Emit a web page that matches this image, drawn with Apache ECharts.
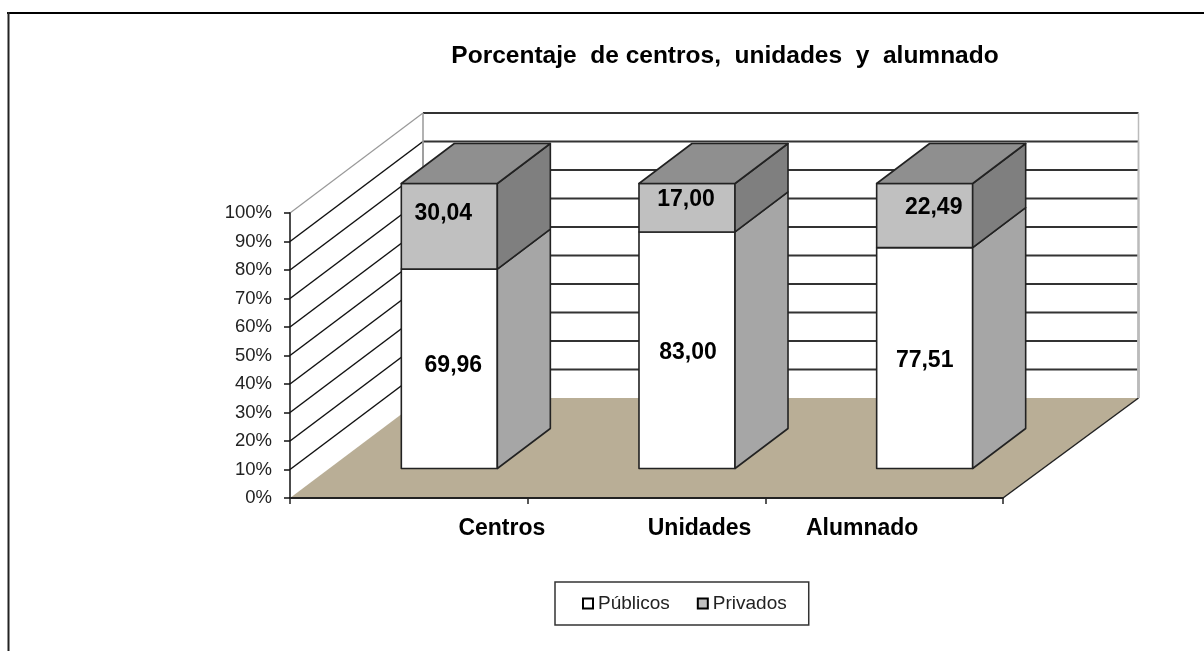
<!DOCTYPE html>
<html>
<head>
<meta charset="utf-8">
<script src="https://cdn.jsdelivr.net/npm/echarts@6/dist/echarts.min.js"></script>
<style>html,body{margin:0;padding:0;background:#fff}#c{width:1204px;height:651px}</style>
</head>
<body>
<div id="c"></div>
<script>
var categories = ['Centros', 'Unidades', 'Alumnado'];
var publicos = [69.96, 83.00, 77.51];
var privados = [30.04, 17.00, 22.49];
var yTicks = [0, 10, 20, 30, 40, 50, 60, 70, 80, 90, 100];
var titleText = 'Porcentaje  de centros,  unidades  y  alumnado';

// layout (pixels, not data)
var FONT = '"Liberation Sans", Arial, sans-serif';
var WALL = [133, -100];        // full floor depth
var WALL_EXTRA = 2.5;          // back wall runs slightly wider than the front edge
var BAR_NEAR = [40.5, -29.5];  // front face of bars inside the floor
var BAR_DEPTH = [53, -40];     // depth of the bars
var BAR_W = 0.404;             // share of the category band
var CAT_NUDGE = [93, 53, -22];
var PUB_NUDGE = [[4, -3], [1, 2], [0, 3]];
var PRI_NUDGE = [[-6, -13], [-1, -8], [9, -8]];

function fmt(v) { return v.toFixed(2).replace('.', ','); }
function poly(pts, fill, stroke, lw) {
  return { type: 'polygon', shape: { points: pts },
    style: { fill: fill, stroke: stroke || null, lineWidth: lw || 0, lineJoin: 'round' } };
}
function line(a, b, color, lw) {
  return { type: 'line', shape: { x1: a[0], y1: a[1], x2: b[0], y2: b[1] },
    style: { stroke: color, lineWidth: lw } };
}
function shift(p, d) { return [p[0] + d[0], p[1] + d[1]]; }

function renderFloor(params, api) {
  var cs = params.coordSys;
  var a = [cs.x, cs.y + cs.height], b = [cs.x + cs.width, cs.y + cs.height];
  var bb = [b[0] + WALL[0] + WALL_EXTRA, b[1] + WALL[1]];
  return { type: 'group', children: [
    poly([a, b, bb, shift(a, WALL)], '#b9ae96'),
    line(b, bb, '#222', 1.5)
  ]};
}
function renderWallLine(params, api) {
  var cs = params.coordSys;
  var v = api.value(0);
  var y = api.coord([0, v])[1];
  var a = [cs.x, y], b = [cs.x + cs.width, y];
  var ba = shift(a, WALL), bb = [b[0] + WALL[0] + WALL_EXTRA, y + WALL[1]];
  var floorY = cs.y + cs.height + WALL[1];
  var ch = [];
  if (v > 0) {
    var edge = v === 100;
    ch.push(line(a, ba, edge ? '#999' : '#111', edge ? 1.2 : 1.5));
    ch.push(line(ba, bb, '#333', 1.8));
    ch.push(line(bb, [bb[0], floorY], '#bbb', 1.5));
    ch.push(line(ba, [ba[0], floorY], '#999', 1.5));
  }
  return { type: 'group', children: ch };
}
function renderStack(front, side, topFace, nudge) {
  return function (params, api) {
    var i = api.value(0), base = api.value(1), val = api.value(2);
    var centre = api.coord([i, 0])[0];
    var w = api.size([1, 0])[0] * BAR_W;
    var y0 = api.coord([i, base])[1], y1 = api.coord([i, base + val])[1];
    var l = centre - w / 2 + BAR_NEAR[0], r = centre + w / 2 + BAR_NEAR[0];
    var bl = [l, y0 + BAR_NEAR[1]], br = [r, y0 + BAR_NEAR[1]];
    var tl = [l, y1 + BAR_NEAR[1]], tr = [r, y1 + BAR_NEAR[1]];
    var ch = [
      poly([bl, br, tr, tl], front, '#222', 1.6),
      poly([br, shift(br, BAR_DEPTH), shift(tr, BAR_DEPTH), tr], side, '#222', 1.6)
    ];
    if (topFace) ch.push(poly([tl, tr, shift(tr, BAR_DEPTH), shift(tl, BAR_DEPTH)], topFace, '#222', 1.6));
    ch.push({ type: 'text', style: {
      text: fmt(val), x: (l + r) / 2 + nudge[i][0], y: (tl[1] + bl[1]) / 2 + nudge[i][1],
      fill: '#000', font: 'bold 23px ' + FONT, align: 'center', verticalAlign: 'middle' } });
    return { type: 'group', children: ch };
  };
}
function renderCat(params, api) {
  var i = api.value(0);
  var p = api.coord([i, 0]);
  return { type: 'text', style: { text: categories[i], x: p[0] + CAT_NUDGE[i], y: p[1] + 31,
    fill: '#000', font: 'bold 23px ' + FONT, align: 'center', verticalAlign: 'middle' } };
}

var chart = echarts.init(document.getElementById('c'), null, { renderer: 'canvas' });
chart.setOption({
  animation: false,
  backgroundColor: '#fff',
  title: { text: titleText, left: 720, textAlign: 'center', top: 39,
    textStyle: { fontFamily: FONT, fontSize: 24.5, fontWeight: 'bold', color: '#000' } },
  legend: {
    left: 555, top: 582, padding: [12, 22, 12, 27], itemGap: 27, itemWidth: 10, itemHeight: 10,
    backgroundColor: '#fff', borderColor: '#333', borderWidth: 1.5, borderRadius: 0,
    icon: 'rect', selectedMode: false,
    textStyle: { fontFamily: FONT, fontSize: 19, color: '#222' },
    data: [
      { name: 'Públicos', itemStyle: { color: '#fff', borderColor: '#000', borderWidth: 2 } },
      { name: 'Privados', itemStyle: { color: '#c0c0c0', borderColor: '#000', borderWidth: 2 } }
    ]
  },
  grid: { left: 290, top: 213, width: 713, height: 285 },
  xAxis: {
    type: 'category', data: categories, z: 5,
    axisLine: { lineStyle: { color: '#222', width: 2 } },
    axisTick: { show: true, length: 6, lineStyle: { color: '#222', width: 1.5 } },
    axisLabel: { show: false }, splitLine: { show: false }
  },
  yAxis: {
    type: 'value', min: 0, max: 100, interval: 10, z: 5,
    axisLine: { show: true, lineStyle: { color: '#111', width: 1.5 } },
    axisTick: { show: true, length: 6, lineStyle: { color: '#111', width: 1.5 } },
    axisLabel: { formatter: '{value}%', margin: 18, fontFamily: FONT, fontSize: 18.5, color: '#222' },
    splitLine: { show: false }
  },
  graphic: [
    { type: 'line', silent: true, shape: { x1: 7, y1: 13, x2: 1204, y2: 13 }, style: { stroke: '#000', lineWidth: 2 } },
    { type: 'line', silent: true, shape: { x1: 8.5, y1: 12, x2: 8.5, y2: 651 }, style: { stroke: '#222', lineWidth: 2 } }
  ],
  series: [
    { type: 'custom', name: 'suelo', silent: true, renderItem: renderFloor, data: [[0]], z: 1 },
    { type: 'custom', name: 'pared', silent: true, renderItem: renderWallLine,
      data: yTicks.map(function (t) { return [t]; }), encode: { y: 0 }, z: 2 },
    { type: 'custom', name: 'Públicos', silent: true, z: 3,
      itemStyle: { color: '#fff', borderColor: '#000', borderWidth: 2 },
      renderItem: renderStack('#fff', '#a6a6a6', null, PUB_NUDGE),
      data: categories.map(function (c, i) { return [i, 0, publicos[i]]; }) },
    { type: 'custom', name: 'Privados', silent: true, z: 3,
      itemStyle: { color: '#c0c0c0', borderColor: '#000', borderWidth: 2 },
      renderItem: renderStack('#c0c0c0', '#7f7f7f', '#8f8f8f', PRI_NUDGE),
      data: categories.map(function (c, i) { return [i, publicos[i], privados[i]]; }) },
    { type: 'custom', name: 'categorias', silent: true, z: 4, renderItem: renderCat,
      data: categories.map(function (c, i) { return [i]; }) }
  ]
});
</script>
</body>
</html>
